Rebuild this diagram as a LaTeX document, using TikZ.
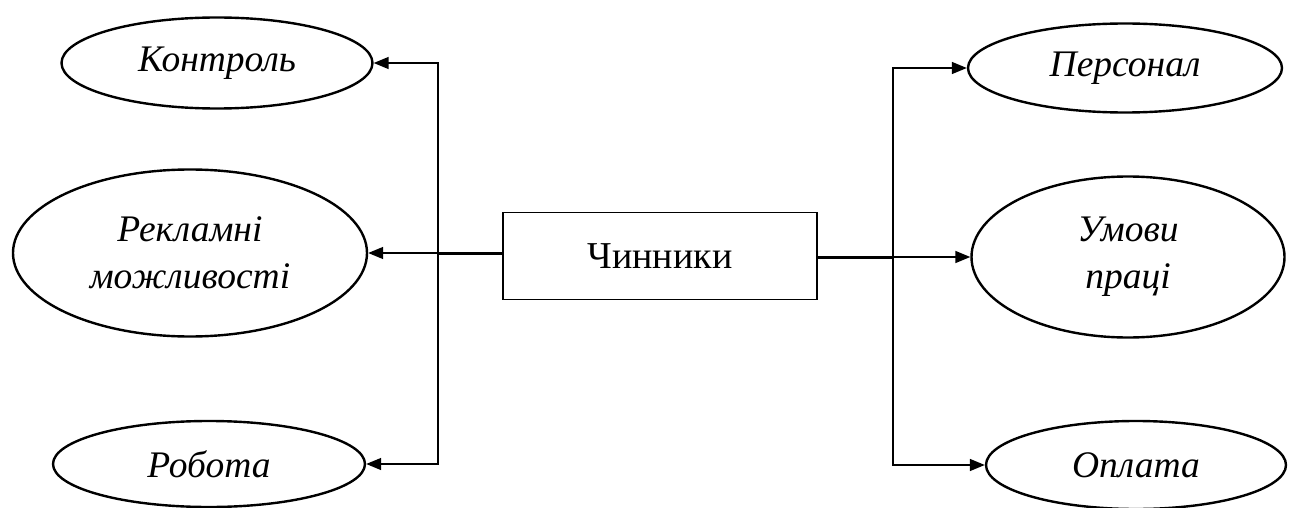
\documentclass[tikz,border=0pt]{standalone}
\usepackage{fontspec}
\setmainfont{Liberation Serif}
\usetikzlibrary{shapes.geometric, arrows.meta}

\begin{document}
\begin{tikzpicture}[x=1pt, y=-1pt,
    factor/.style={draw, ellipse, line width=2.4pt, inner sep=0pt, align=center,
        font=\fontsize{37.5}{47}\selectfont\itshape},
    core/.style={draw, rectangle, line width=1.8pt, minimum width=314pt, minimum height=87pt,
        font=\fontsize{38}{46}\selectfont},
    link/.style={line width=1.5pt, -{Triangle[length=15pt, width=12pt]}},
    stub/.style={line width=3pt}]
    \useasboundingbox (0,0) rectangle (1293,508);

    % Central box
    \node[core] (chynnyky) at (660,256) {Чинники};

    % Left factors
    \node[factor, minimum width=311pt, minimum height=91pt] (kontrol) at (217,63) {Контроль};
    \node[factor, minimum width=354pt, minimum height=167pt] (reklama) at (190,253) {Рекламні\\можливості};
    \node[factor, minimum width=312pt, minimum height=86pt] (robota) at (209,464) {Робота};

    % Right factors
    \node[factor, minimum width=314pt, minimum height=89pt] (personal) at (1125,68) {Персонал};
    \node[factor, minimum width=313pt, minimum height=161pt] (umovy) at (1128,257) {Умови\\праці};
    \node[factor, minimum width=300pt, minimum height=88pt] (oplata) at (1136,465) {Оплата};

    % Left bus
    \coordinate (lbus) at (438,253);
    \draw[stub] (chynnyky.west |- lbus) -- (lbus);
    \draw[link] (lbus) -- (reklama.east);
    \draw[link] (lbus) |- (kontrol.east);
    \draw[link] (lbus) |- (robota.east);

    % Right bus
    \coordinate (rbus) at (893,257);
    \draw[stub] (chynnyky.east |- rbus) -- (rbus);
    \draw[link] (rbus) -- (umovy.west);
    \draw[link] (rbus) |- (personal.west);
    \draw[link] (rbus) |- (oplata.west);

\end{tikzpicture}
\end{document}
